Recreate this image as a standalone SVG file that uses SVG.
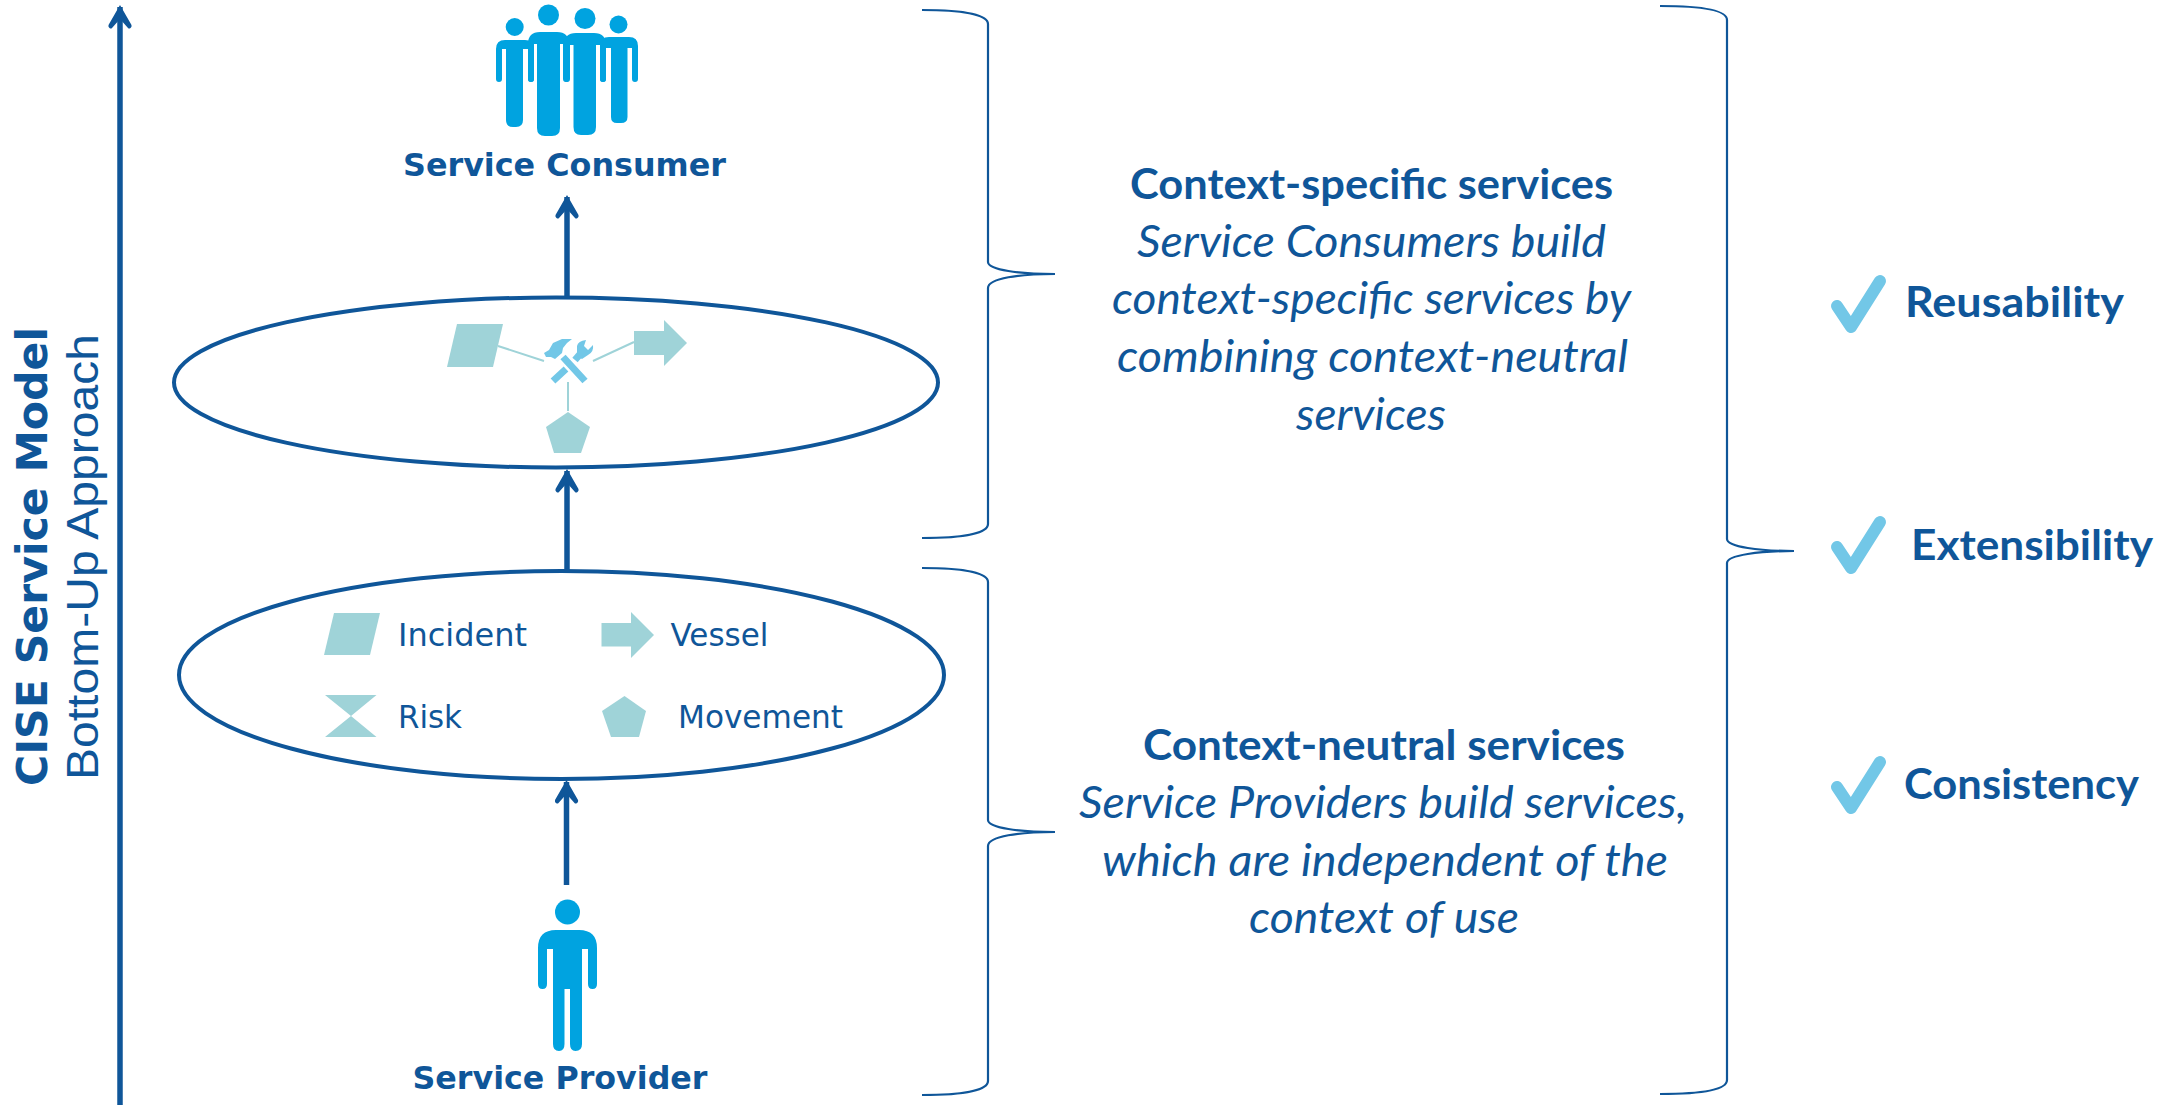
<svg xmlns="http://www.w3.org/2000/svg" xmlns:xlink="http://www.w3.org/1999/xlink" width="2181" height="1105" viewBox="0 0 2181 1105">
<style>
text{fill:#0f5699}
.lato{font-family:Lato,"Open Sans",sans-serif}
.b{font-weight:700;font-size:42px}
.i{font-style:italic;font-size:44px}
.verd{font-family:"DejaVu Sans",sans-serif;font-weight:700}
.leg{font-family:"DejaVu Sans",sans-serif;font-size:32px}
.shape{fill:#9fd3d8}
.link{stroke:#9fd3d8;stroke-width:2;fill:none}
.person{fill:#00a3e0}
.tool{fill:#72c7e7}
.toolh{stroke:#72c7e7;stroke-width:7;fill:none}
.ell{fill:#fff;stroke:#0f5699;stroke-width:4}
.arrow{stroke:#0f5699;stroke-width:5.500;fill:none;marker-end:url(#head)}
.brace{stroke:#0f5699;stroke-width:2.200;fill:none}
.check{stroke:#72c7e7;stroke-width:12;fill:none;stroke-linecap:round;stroke-linejoin:round}
</style>
<defs>
<marker id="head" markerUnits="userSpaceOnUse" markerWidth="26" markerHeight="26" refX="22" refY="12" orient="auto">
<path d="M24 12 L4 0.500 Q2 0 1 1.500 Q0 3 1 4 L10 12 L1 20 Q0 21 1 22.500 Q2 24 4 23.500Z" fill="#0f5699"/>
</marker>
<path id="chk" class="check" d="M1837 306 L1851 327 L1880 281"/>
</defs>
<rect width="2181" height="1105" fill="#fff"/>

<g id="ellipses">
<ellipse id="ellipse-specific" class="ell" cx="556" cy="382.500" rx="382" ry="85"/>
<ellipse id="ellipse-neutral" class="ell" cx="561.500" cy="675" rx="382.500" ry="104"/>
</g>

<g id="connectors">
<path class="arrow" d="M120 1105 V7"/>
<path class="arrow" d="M567 296 V197"/>
<path class="arrow" d="M567 570 V471"/>
<path class="arrow" d="M566.500 885 V782"/>
<path class="brace" d="M922 10 C960 10 988 14 988 24 V262 C988 270 1020 274 1055 274 C1020 274 988 278 988 288 V524 C988 534 960 538 922 538"/>
<path class="brace" d="M922 568 C960 568 988 572 988 582 V820 C988 828 1020 832 1055 832 C1020 832 988 836 988 846 V1081 C988 1091 960 1095 922 1095"/>
<path class="brace" d="M1660 6 C1700 6 1727 10 1727 20 V539 C1727 547 1760 551 1794 551 C1760 551 1727 555 1727 563 V1080 C1727 1090 1700 1094 1660 1094"/>
</g>

<g id="service-consumer">
<g class="person">
<circle cx="514.700" cy="27" r="9"/>
<path d="M496 79 V49 Q496 40 505 40 H525 Q534 40 534 49 V79 Q534 82 531 82 H531 Q528 82 528 79 V49 H523 V120 Q523 127 516 127 H513 Q506 127 506 120 V49 H502 V79 Q502 82 499 82 Q496 82 496 79Z"/>
<circle cx="548.500" cy="15" r="10.500"/>
<path d="M528 79 V44 Q528 32 540 32 H557 Q569 32 569 44 V79 Q569 82 566 82 Q563 82 563 79 V44 H560 V128 Q560 136 552 136 H545 Q537 136 537 128 V44 H534 V79 Q534 82 531 82 Q528 82 528 79Z"/>
<circle cx="585" cy="18.500" r="10.500"/>
<path d="M564 79 V45 Q564 33 576 33 H594 Q606 33 606 45 V79 Q606 82 603 82 Q600 82 600 79 V45 H596 V127 Q596 135 588 135 H581 Q573.500 135 573.500 127 V45 H570 V79 Q570 82 567 82 Q564 82 564 79Z"/>
<circle cx="618.500" cy="24.500" r="9"/>
<path d="M600 79 V46 Q600 37 609 37 H629 Q638 37 638 46 V79 Q638 82 635 82 Q632 82 632 79 V48 H627.500 V117 Q627.500 123 621 123 H617 Q611 123 611 117 V48 H606 V79 Q606 82 603 82 Q600 82 600 79Z"/>
</g>
<text class="verd" x="403" y="176" font-size="31.500" textLength="323" lengthAdjust="spacingAndGlyphs">Service Consumer</text>
</g>

<g id="composed-service">
<path class="link" d="M498 346 L544 361 M593 361 L634 342 M568 382 V411"/>
<path class="shape" d="M457 324 H503 L493 367 H447Z"/>
<path class="shape" d="M634 331 H664 V320 L687 343 L664 366 V355 H634Z"/>
<path class="shape" d="M568 412 L590 427 L581 453 H554 L546 427Z"/>
<path class="toolh" d="M563 357 L585 381 M553 381 L566 369 M575 360 L581 353"/>
<path class="tool" d="M544 353 L546 357 L551 357 L555 359 L562 353 L563 348 L567 343 L572 339 L562 339 L553 343 L549 350Z"/>
<path class="tool" d="M577 356 L577 346 Q578 341 586 340 L584 346 L588 350 L593 345 Q594 352 588 355 L582 359Z"/>
</g>

<g id="neutral-services">
<path class="shape" d="M334 613 H380 L370 655 H324Z"/>
<text class="leg" x="398" y="646" textLength="129" lengthAdjust="spacingAndGlyphs">Incident</text>
<path class="shape" d="M601.500 623 H631 V612 L654 635 L631 658 V646.500 H601.500Z"/>
<text class="leg" x="670.500" y="646" textLength="98" lengthAdjust="spacingAndGlyphs">Vessel</text>
<path class="shape" d="M325 695 H376.500 L351 716 L376.500 737 H325 L351 716Z"/>
<text class="leg" x="398" y="728" textLength="64" lengthAdjust="spacingAndGlyphs">Risk</text>
<path class="shape" d="M624.500 696 L646 711 L639 737 H611 L602 711Z"/>
<text class="leg" x="678" y="728" textLength="165" lengthAdjust="spacingAndGlyphs">Movement</text>
</g>

<g id="service-provider">
<g class="person">
<circle cx="567.500" cy="912" r="12.500"/>
<path d="M538 984 V948 Q538 930 556 930 H579 Q597 930 597 948 V984 Q597 989 592.500 989 Q588 989 588 984 V949 H582 V1044 Q582 1051 575.500 1051 Q570 1051 570 1044 V989 H564.500 V1044 Q564.500 1051 559 1051 Q553 1051 553 1044 V949 H547 V984 Q547 989 542.500 989 Q538 989 538 984Z"/>
</g>
<text class="verd" x="412.500" y="1089" font-size="31.500" textLength="295" lengthAdjust="spacingAndGlyphs">Service Provider</text>
</g>

<g id="axis-title">
<text class="verd" transform="translate(47 786) rotate(-90)" font-size="43" textLength="459" lengthAdjust="spacingAndGlyphs">CISE Service Model</text>
<text transform="translate(98 780) rotate(-90)" font-family="'Liberation Sans',sans-serif" font-size="45" textLength="446" lengthAdjust="spacingAndGlyphs">Bottom-Up Approach</text>
</g>

<g id="context-specific">
<text class="lato b" x="1130" y="199" textLength="483" lengthAdjust="spacingAndGlyphs">Context-specific services</text>
<text class="lato i" x="1137" y="257" textLength="469" lengthAdjust="spacingAndGlyphs">Service Consumers build</text>
<text class="lato i" x="1112" y="314" textLength="519" lengthAdjust="spacingAndGlyphs">context-specific services by</text>
<text class="lato i" x="1117" y="372" textLength="511" lengthAdjust="spacingAndGlyphs">combining context-neutral</text>
<text class="lato i" x="1296" y="430" textLength="150" lengthAdjust="spacingAndGlyphs">services</text>
</g>

<g id="context-neutral">
<text class="lato b" x="1143" y="760" textLength="482" lengthAdjust="spacingAndGlyphs">Context-neutral services</text>
<text class="lato i" x="1079" y="818" textLength="608" lengthAdjust="spacingAndGlyphs">Service Providers build services,</text>
<text class="lato i" x="1102" y="876" textLength="566" lengthAdjust="spacingAndGlyphs">which are independent of the</text>
<text class="lato i" x="1249" y="933" textLength="270" lengthAdjust="spacingAndGlyphs">context of use</text>
</g>

<g id="reusability">
<use xlink:href="#chk" href="#chk"/>
<text class="lato b" x="1905" y="317" textLength="219" lengthAdjust="spacingAndGlyphs">Reusability</text>
</g>
<g id="extensibility">
<use xlink:href="#chk" href="#chk" y="241"/>
<text class="lato b" x="1911" y="560" textLength="242" lengthAdjust="spacingAndGlyphs">Extensibility</text>
</g>
<g id="consistency">
<use xlink:href="#chk" href="#chk" y="481"/>
<text class="lato b" x="1904" y="799" textLength="235" lengthAdjust="spacingAndGlyphs">Consistency</text>
</g>
</svg>
